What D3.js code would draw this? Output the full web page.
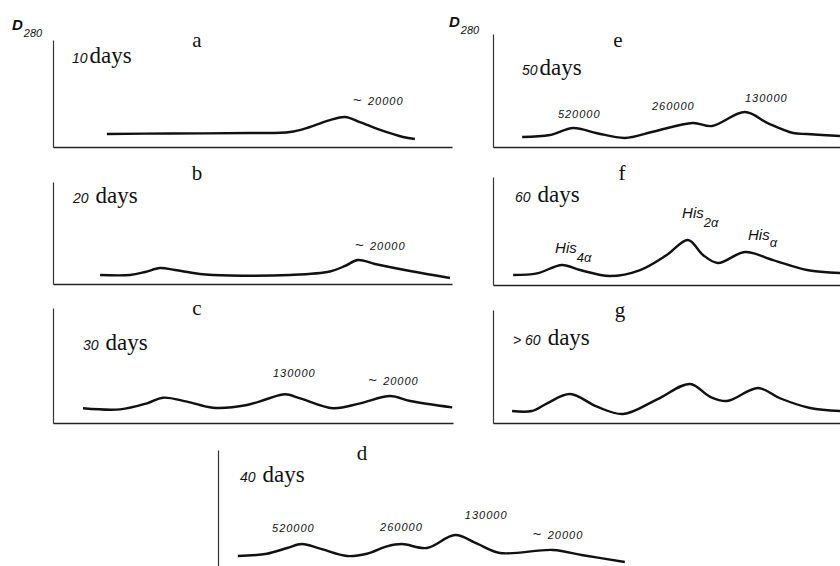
<!DOCTYPE html>
<html>
<head>
<meta charset="utf-8">
<script src="https://cdn.jsdelivr.net/npm/d3@7"></script>
<style>
  body { margin: 0; background: #fff; }
  .serif { font-family: "Liberation Serif", "DejaVu Serif", serif; }
  .num { font-family: "Liberation Sans", "DejaVu Sans", sans-serif; font-style: italic; }
</style>
</head>
<body>
<div class="canvas"></div>
<script>
// elution profiles: fraction (0-100 along the axis) and D280 (arbitrary units)
const volA = [13.5, 29.3, 49.4, 59.4, 64.4, 69.4, 73.2, 76.9, 82.0, 87.7, 90.7];
const dA = [0.118, 0.123, 0.127, 0.136, 0.182, 0.245, 0.273, 0.227, 0.155, 0.091, 0.073];

const volB = [11.8, 19.3, 23.1, 26.8, 30.6, 36.8, 44.4, 59.4, 69.4, 73.2, 76.4, 80.7, 89.5, 99.5];
const dB = [0.082, 0.082, 0.109, 0.145, 0.127, 0.091, 0.077, 0.082, 0.114, 0.164, 0.218, 0.182, 0.118, 0.055];

const volC = [7.5, 16.8, 23.5, 27.5, 33.5, 40.0, 48.5, 53.5, 58.0, 61.8, 70.0, 76.8, 84.3, 89.3, 99.8];
const dC = [0.134, 0.124, 0.179, 0.230, 0.194, 0.139, 0.164, 0.218, 0.261, 0.224, 0.134, 0.179, 0.245, 0.200, 0.142];

const volD = [4.7, 11.6, 16.4, 19.9, 24.2, 30.6, 35.3, 40.0, 43.6, 49.5, 56.2, 61.4, 66.8, 79.4, 86.5, 96.4];
const dD = [0.127, 0.148, 0.200, 0.236, 0.194, 0.127, 0.148, 0.215, 0.236, 0.200, 0.318, 0.239, 0.155, 0.182, 0.134, 0.073];

const volE = [8.4, 16.4, 23.1, 30.0, 38.0, 46.1, 57.6, 63.1, 72.6, 79.3, 86.5, 90.5, 100];
const dE = [0.091, 0.109, 0.173, 0.125, 0.082, 0.139, 0.218, 0.191, 0.318, 0.215, 0.127, 0.118, 0.100];

const volF = [5.8, 12.7, 19.9, 25.1, 33.7, 42.4, 50.1, 56.2, 60.5, 64.8, 72.6, 80.7, 90.5, 100];
const dF = [0.091, 0.106, 0.182, 0.136, 0.082, 0.136, 0.273, 0.409, 0.273, 0.200, 0.300, 0.227, 0.136, 0.109];

const volG = [5.5, 11.2, 15.6, 22.2, 30.0, 37.5, 47.3, 56.8, 62.5, 67.4, 76.4, 82.7, 91.4, 100];
const dG = [0.109, 0.109, 0.179, 0.264, 0.148, 0.082, 0.215, 0.355, 0.239, 0.200, 0.318, 0.225, 0.136, 0.109];

// panel captions
const letters = ["a", "b", "c", "d", "e", "f", "g"];
const ages = ["10", "20", "30", "40", "50", "60", "60"];
const agePrefix = ["", "", "", "", "", "", "> "];

// peak labels: [tilde?, text, subscript, fraction, D280]
const peaksA = [[true, "20000", "", 75.2, 0.382]];
const peaksB = [[true, "20000", "", 75.7, 0.309]];
const peaksC = [[false, "130000", "", 55.0, 0.418], [true, "20000", "", 78.8, 0.345]];
const peaksD = [[false, "520000", "", 12.8, 0.345], [false, "260000", "", 38.4, 0.355], [false, "130000", "", 58.5, 0.464], [true, "20000", "", 74.6, 0.282]];
const peaksE = [[false, "520000", "", 18.7, 0.264], [false, "260000", "", 45.8, 0.336], [false, "130000", "", 72.6, 0.409]];
const peaksF = [[false, "His", "4α", 17.9, 0.291], [false, "His", "2α", 54.5, 0.609], [false, "His", "α", 73.5, 0.409]];
const peaksG = [];

const UNIT = 110; // px per D280 unit

// panel frames
const panels = [
  { vol: volA, d: dA, peaks: peaksA, left: 53, right: 452, top: 40, bottom: 147, title: [72, 63], letter: [197, 47] },
  { vol: volB, d: dB, peaks: peaksB, left: 53, right: 452, top: 182, bottom: 284, title: [73, 203], letter: [197, 180] },
  { vol: volC, d: dC, peaks: peaksC, left: 53, right: 453, top: 308, bottom: 423, title: [83, 350], letter: [197, 315] },
  { vol: volD, d: dD, peaks: peaksD, left: 218, right: 640, top: 450, bottom: 570, title: [240, 482], letter: [362, 460] },
  { vol: volE, d: dE, peaks: peaksE, left: 493, right: 840, top: 34, bottom: 147, title: [522, 75], letter: [618, 47] },
  { vol: volF, d: dF, peaks: peaksF, left: 493, right: 840, top: 177, bottom: 285, title: [515, 202], letter: [622, 180] },
  { vol: volG, d: dG, peaks: peaksG, left: 493, right: 840, top: 310, bottom: 423, title: [513, 345], letter: [620, 317] },
];

const svg = d3
  .select(".canvas")
  .append("svg")
  .attr("width", 840)
  .attr("height", 566);

svg.append("rect").attr("width", 840).attr("height", 566).attr("fill", "#fff");

panels.forEach((p, i) => {
  const x = d3.scaleLinear().domain([0, 100]).range([p.left, p.right]);
  const y = d3.scaleLinear().domain([0, (p.bottom - p.top) / UNIT]).range([p.bottom, p.top]);

  const g = svg.append("g").attr("class", "panel-" + letters[i]);

  // axes (bare lines, no ticks)
  const xAxisGroup = g.append("g").attr("transform", `translate(0,${p.bottom})`)
    .call(d3.axisBottom(x).tickValues([]).tickSizeOuter(0));
  const yAxisGroup = g.append("g").attr("transform", `translate(${p.left},0)`)
    .call(d3.axisLeft(y).tickValues([]).tickSizeOuter(0));
  xAxisGroup.select(".domain").attr("stroke", "#222").attr("stroke-width", 1.6);
  yAxisGroup.select(".domain").attr("stroke", "#333").attr("stroke-width", 1.2);

  // profile curve
  const line = d3.line()
    .x((d) => x(d[0]))
    .y((d) => y(d[1]))
    .curve(d3.curveCatmullRom.alpha(0.5));

  g.append("path")
    .datum(d3.zip(p.vol, p.d))
    .attr("fill", "none")
    .attr("stroke", "#111")
    .attr("stroke-width", 2.4)
    .attr("stroke-linejoin", "round")
    .attr("d", line);

  // panel letter
  g.append("text")
    .attr("class", "serif")
    .attr("x", p.letter[0])
    .attr("y", p.letter[1])
    .attr("text-anchor", "middle")
    .attr("font-size", 21)
    .attr("fill", "#111")
    .text(letters[i]);

  // age caption
  const t = g.append("text")
    .attr("x", p.title[0])
    .attr("y", p.title[1])
    .attr("fill", "#111");
  if (agePrefix[i]) {
    t.append("tspan").attr("class", "num").attr("font-size", 14).attr("font-style", "normal").text(agePrefix[i]);
  }
  t.append("tspan").attr("class", "num").attr("font-size", 14).text(ages[i]);
  t.append("tspan").attr("class", "serif").attr("font-size", 23).attr("dx", i === 0 || i === 4 ? 2 : 7).text("days");

  // peak labels
  p.peaks.forEach(([tilde, txt, sub, vx, vy]) => {
    const isHis = sub !== "";
    const lab = g.append("text")
      .attr("class", "num")
      .attr("x", x(vx))
      .attr("y", y(vy))
      .attr("font-size", isHis ? 15 : 11)
      .attr("letter-spacing", isHis ? 0 : 1)
      .attr("fill", "#111");
    if (tilde) lab.append("tspan").attr("font-size", 15).attr("font-style", "normal").text("~ ");
    lab.append("tspan").text(txt);
    if (isHis) {
      lab.append("tspan").attr("dy", sub === "α" ? 7 : 9).attr("font-size", 13).text(sub);
    }
  });
});

// y-axis titles D280
[[12, 30], [449, 27]].forEach(([lx, ly]) => {
  const t = svg.append("text")
    .attr("class", "num")
    .attr("x", lx)
    .attr("y", ly)
    .attr("fill", "#111");
  t.append("tspan").attr("font-size", 15).attr("font-weight", "bold").text("D");
  t.append("tspan").attr("font-size", 11).attr("dy", 7).attr("dx", 1).text("280");
});
</script>
</body>
</html>
